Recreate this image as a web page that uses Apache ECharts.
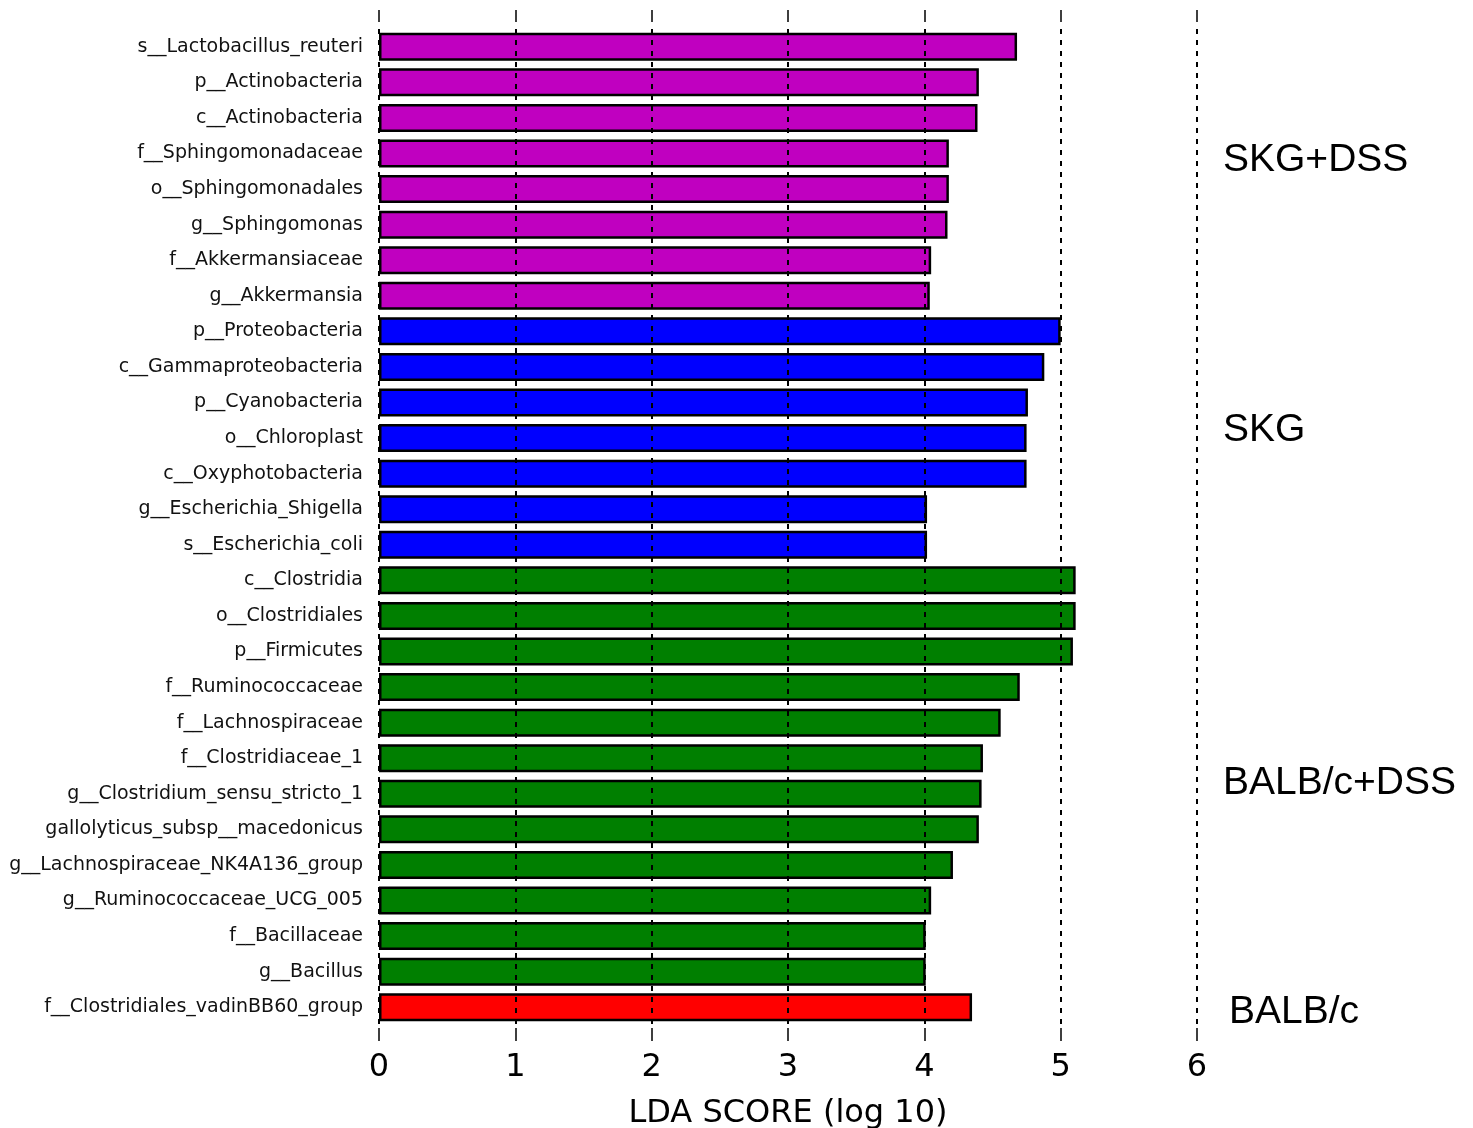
<!DOCTYPE html>
<html>
<head>
<meta charset="utf-8">
<title>LDA SCORE (log 10)</title>
<script src="https://cdn.jsdelivr.net/npm/echarts@6/dist/echarts.min.js"></script>
<style>
  html, body { margin: 0; padding: 0; background: #ffffff; }
  #chart { width: 1473px; height: 1128px; }
</style>
</head>
<body>
<div id="chart"></div>
<script>
// Taxa ranked by LDA score, listed top to bottom
const taxa = [
  's__Lactobacillus_reuteri',
  'p__Actinobacteria',
  'c__Actinobacteria',
  'f__Sphingomonadaceae',
  'o__Sphingomonadales',
  'g__Sphingomonas',
  'f__Akkermansiaceae',
  'g__Akkermansia',
  'p__Proteobacteria',
  'c__Gammaproteobacteria',
  'p__Cyanobacteria',
  'o__Chloroplast',
  'c__Oxyphotobacteria',
  'g__Escherichia_Shigella',
  's__Escherichia_coli',
  'c__Clostridia',
  'o__Clostridiales',
  'p__Firmicutes',
  'f__Ruminococcaceae',
  'f__Lachnospiraceae',
  'f__Clostridiaceae_1',
  'g__Clostridium_sensu_stricto_1',
  'gallolyticus_subsp__macedonicus',
  'g__Lachnospiraceae_NK4A136_group',
  'g__Ruminococcaceae_UCG_005',
  'f__Bacillaceae',
  'g__Bacillus',
  'f__Clostridiales_vadinBB60_group'
];

const ldaScores = [
  4.68, 4.40, 4.39, 4.18, 4.18, 4.17, 4.05, 4.04,
  5.00, 4.88, 4.76, 4.75, 4.75, 4.02, 4.02,
  5.11, 5.11, 5.09, 4.70, 4.56, 4.43, 4.42, 4.40, 4.21, 4.05, 4.01, 4.01,
  4.35
];

// Group each taxon is enriched in (index into groupNames)
const groupNames = ['SKG+DSS', 'SKG', 'BALB/c+DSS', 'BALB/c'];
const taxonGroup = [
  0, 0, 0, 0, 0, 0, 0, 0,
  1, 1, 1, 1, 1, 1, 1,
  2, 2, 2, 2, 2, 2, 2, 2, 2, 2, 2, 2,
  3
];

const xTicks = [0, 1, 2, 3, 4, 5, 6];

const groupColors = ['#C000C0', '#0000FF', '#007F00', '#FF0000'];

const chart = echarts.init(document.getElementById('chart'), null, { renderer: 'canvas' });

const barData = ldaScores.map((v, i) => ({
  value: v,
  itemStyle: { color: groupColors[taxonGroup[i]] }
}));

const tickFont = 'DejaVu Sans';
const groupFont = 'Liberation Sans';

// Group label placement, right of the plot
const groupLabelPos = [
  { x: 1223, y: 160 },
  { x: 1223, y: 430 },
  { x: 1223, y: 783 },
  { x: 1229, y: 1012 }
];

const option = {
  backgroundColor: '#ffffff',
  animation: false,
  grid: {
    left: 379, right: 276, top: 29, bottom: 103,
    containLabel: false,
    outerBoundsMode: 'none'
  },
  xAxis: [
    {
      type: 'value',
      position: 'bottom',
      min: xTicks[0],
      max: xTicks[xTicks.length - 1],
      interval: 1,
      offset: 3,
      z: 5,
      axisLine: { show: false },
      axisTick: { show: true, inside: false, length: 13, lineStyle: { color: '#000', width: 1.5 } },
      axisLabel: {
        fontFamily: tickFont, fontSize: 32, color: '#000', margin: 24
      },
      splitLine: {
        show: true,
        lineStyle: { color: '#000', width: 2, type: [5, 6] }
      },
      name: 'LDA SCORE (log 10)',
      nameLocation: 'middle',
      nameGap: 70,
      nameTextStyle: { fontFamily: tickFont, fontSize: 32, color: '#000' }
    },
    {
      type: 'value',
      position: 'top',
      min: xTicks[0],
      max: xTicks[xTicks.length - 1],
      interval: 1,
      offset: 7,
      z: 5,
      axisLine: { show: false },
      axisTick: { show: true, inside: false, length: 12, lineStyle: { color: '#000', width: 1.5 } },
      axisLabel: { show: false },
      splitLine: { show: false }
    }
  ],
  yAxis: {
    type: 'category',
    data: taxa,
    inverse: true,
    axisLine: { show: false },
    axisTick: { show: false },
    axisLabel: {
      fontFamily: tickFont, fontSize: 19, color: '#111', margin: 16,
      padding: [6, 0, 0, 0]
    },
    splitLine: { show: false }
  },
  series: [
    {
      type: 'bar',
      xAxisIndex: 0,
      data: barData,
      barWidth: 28,
      z: 2,
      itemStyle: { borderColor: '#000', borderWidth: 2.5 }
    }
  ],
  graphic: groupNames.map((name, g) => ({
    type: 'text',
    x: groupLabelPos[g].x,
    y: groupLabelPos[g].y,
    style: {
      text: name,
      fontFamily: groupFont,
      fontSize: 39,
      fill: '#000',
      verticalAlign: 'middle',
      align: 'left'
    }
  }))
};

chart.setOption(option);
</script>
</body>
</html>
